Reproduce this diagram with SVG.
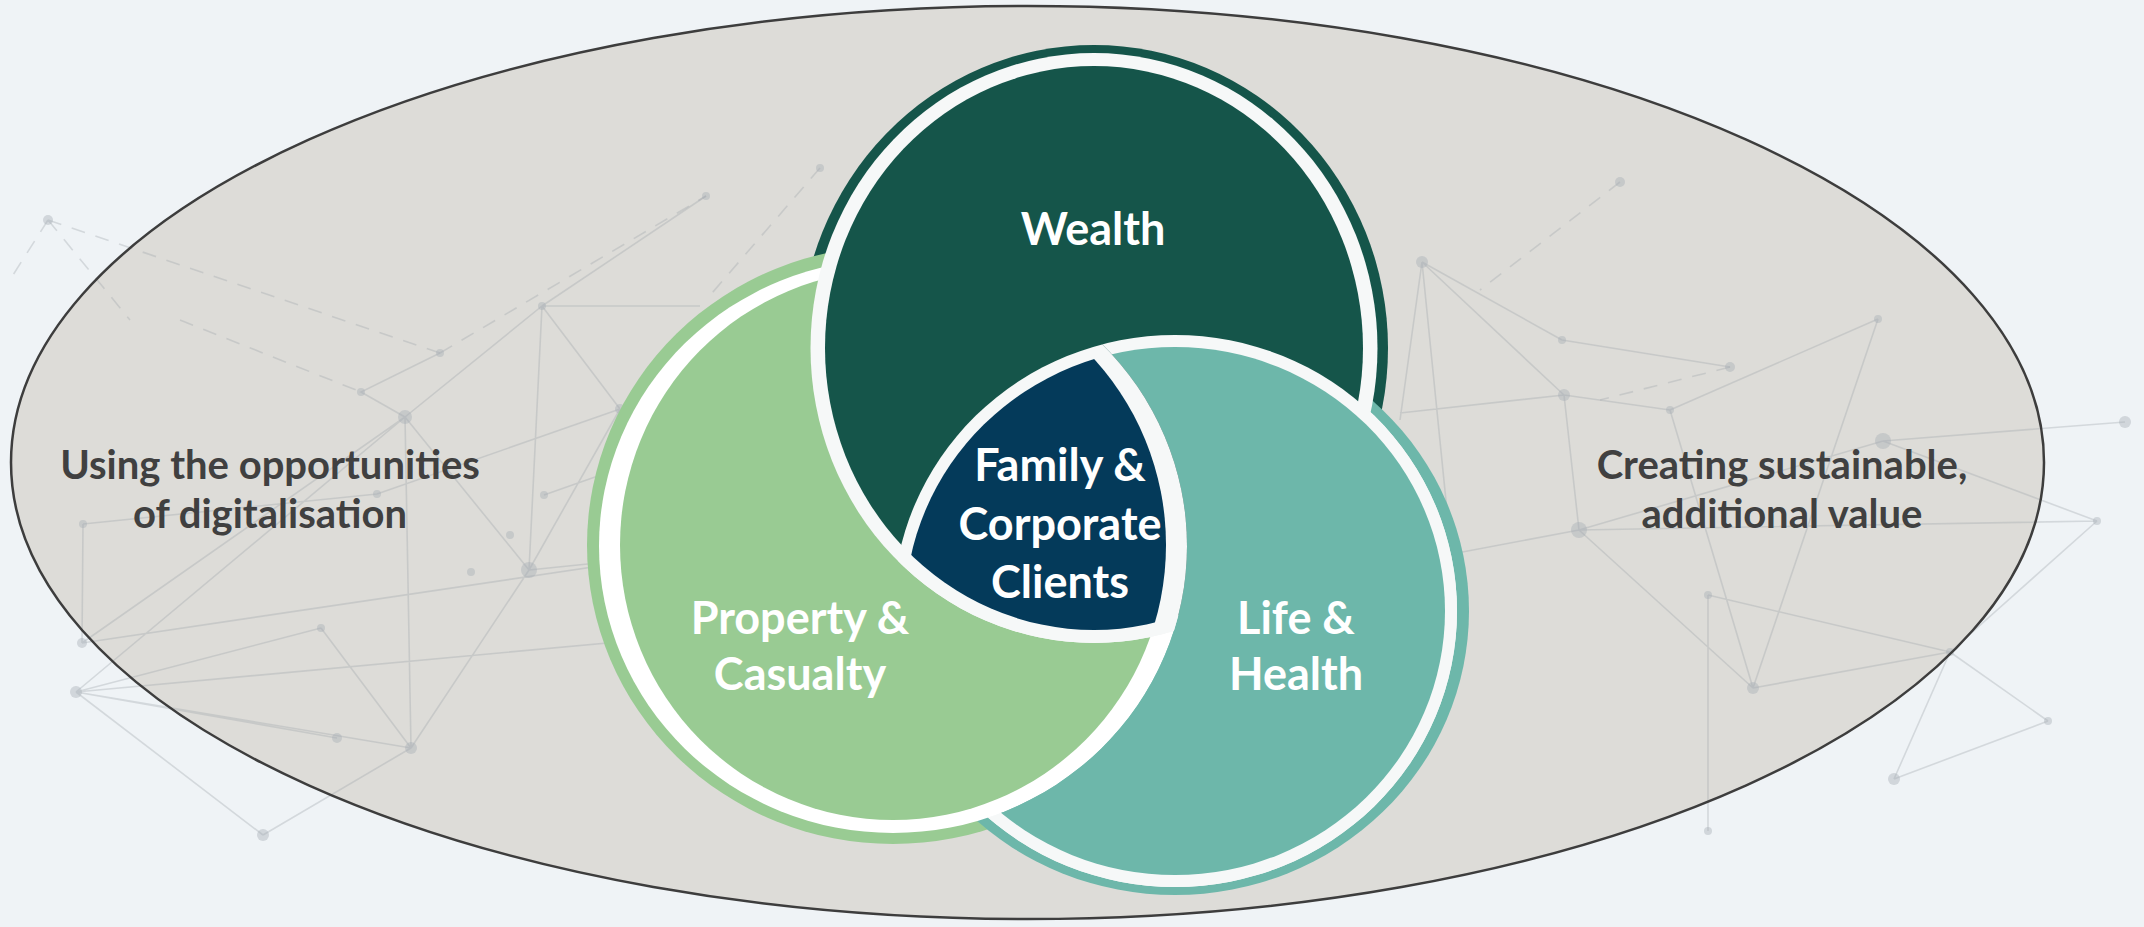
<svg xmlns="http://www.w3.org/2000/svg" width="2144" height="927" viewBox="0 0 2144 927">
<style>
  .net{fill:none;stroke:#9ea3aa;stroke-opacity:.34;stroke-width:1.6}
  .dash{stroke-dasharray:14 11}
  .dot{fill:#a8adb4;fill-opacity:.42}
  .lbl{font-family:Lato,"Open Sans","Liberation Sans",sans-serif;font-weight:700;text-anchor:middle}
  .in{fill:#ffffff;font-size:45px}
  .side{fill:#404040;font-size:40px}
  .ring{fill:#f6f8f8}
</style>
<defs>
  <ellipse id="wB" cx="1094" cy="348" rx="294" ry="303"/>
  <ellipse id="wW" cx="1094" cy="348" rx="283.5" ry="295"/>
  <ellipse id="wF" cx="1094" cy="348" rx="269" ry="282"/>
  <ellipse id="pB" cx="893" cy="545" rx="306" ry="299"/>
  <ellipse id="pW" cx="893" cy="546" rx="294" ry="287"/>
  <ellipse id="pF" cx="893" cy="545" rx="273" ry="275"/>
  <ellipse id="lB" cx="1175" cy="611" rx="294" ry="284"/>
  <ellipse id="lW" cx="1175" cy="611" rx="282" ry="276"/>
  <ellipse id="lF" cx="1175" cy="611" rx="270" ry="264"/>
  <mask id="outsideP" maskUnits="userSpaceOnUse" x="0" y="0" width="2144" height="927">
    <rect width="2144" height="927" fill="#fff"/>
    <use href="#pW" fill="#000"/>
  </mask>
  <clipPath id="cLW"><use href="#lW"/></clipPath>
  <clipPath id="cWW"><use href="#wW"/></clipPath>
  <clipPath id="cLF"><use href="#lF"/></clipPath>
  <clipPath id="cWF"><use href="#wF"/></clipPath>
</defs>

<rect width="2144" height="927" fill="#eff3f6"/>
<ellipse id="frame-fill" cx="1027.5" cy="462.5" rx="1016.5" ry="456.5" fill="#dddcd8"/>

<g id="network">
  <path class="net" d="M405 417 L542 306 M405 417 L411 748 M405 417 L76 692 M405 417 L529 570 M405 417 L361 392 L440 353 M529 570 L705 552 M529 570 L411 748 M529 570 L542 306 M76 692 L411 748 M76 692 L263 835 M263 835 L411 748 M76 692 L640 640 M82 643 L640 560 M76 692 L321 628 M83 524 L82 643 M83 524 L377 494 M542 306 L700 306 M542 306 L620 409 M620 409 L529 570 M337 738 L76 692 M706 196 L542 306 M321 628 L411 748 M544 495 L700 440 M377 494 L620 409 M82 643 L405 417"/>
  <path class="net dash" d="M48 220 L440 353 M48 220 L13 275 M48 220 L130 320 M180 320 L361 392 M440 353 L706 196 M820 168 L706 300"/>
  <path class="net" d="M1422 262 L1564 395 M1422 262 L1562 340 M1422 262 L1400 420 M1564 395 L1670 410 M1564 395 L1579 530 M1564 395 L1400 413 M1670 410 L1753 688 M1579 530 L1753 688 M1753 688 L1950 652 M1753 688 L1878 319 M1950 652 L2097 521 M1950 652 L1894 779 M1894 779 L2048 721 M1950 652 L2048 721 M1883 441 L2125 422 M1883 441 L2097 521 M1579 530 L1883 441 M1670 410 L1878 319 M1708 595 L1708 831 M1579 530 L1420 560 M1562 340 L1730 367 M1579 530 L2097 521 M1708 595 L1950 652 M1422 262 L1460 640"/>
  <path class="net dash" d="M1620 182 L1480 290 M1730 367 L1600 400"/>
  <g class="dot">
    <circle cx="48" cy="220" r="5"/><circle cx="440" cy="353" r="4"/><circle cx="361" cy="392" r="4"/>
    <circle cx="405" cy="417" r="7"/><circle cx="542" cy="306" r="4"/><circle cx="544" cy="495" r="4"/>
    <circle cx="510" cy="535" r="4"/><circle cx="529" cy="570" r="8"/><circle cx="471" cy="572" r="4"/>
    <circle cx="83" cy="524" r="4"/><circle cx="321" cy="628" r="4"/><circle cx="82" cy="643" r="5"/>
    <circle cx="76" cy="692" r="6"/><circle cx="337" cy="738" r="5"/><circle cx="411" cy="748" r="6"/>
    <circle cx="263" cy="835" r="6"/><circle cx="377" cy="494" r="4"/><circle cx="620" cy="409" r="5"/>
    <circle cx="706" cy="196" r="4"/><circle cx="820" cy="168" r="4"/>
    <circle cx="1620" cy="182" r="5"/><circle cx="1422" cy="262" r="6"/><circle cx="1562" cy="340" r="4"/>
    <circle cx="1564" cy="395" r="6"/><circle cx="1670" cy="410" r="4"/><circle cx="1730" cy="367" r="5"/>
    <circle cx="1878" cy="319" r="4"/><circle cx="1883" cy="441" r="8"/><circle cx="2125" cy="422" r="6"/>
    <circle cx="2097" cy="521" r="4"/><circle cx="1579" cy="530" r="8"/><circle cx="1708" cy="595" r="4"/>
    <circle cx="1753" cy="688" r="6"/><circle cx="1950" cy="652" r="4"/><circle cx="1894" cy="779" r="6"/>
    <circle cx="2048" cy="721" r="4"/><circle cx="1708" cy="831" r="4"/>
  </g>
</g>
<ellipse id="frame-outline" cx="1027.5" cy="462.5" rx="1016.5" ry="456.5" fill="none" stroke="#3d3d3d" stroke-width="2.5"/>

<g id="outer-bands">
  <use href="#wB" fill="#15554a"/>
  <use href="#pB" fill="#99cb93"/>
  <use href="#lB" fill="#6db7aa"/>
</g>

<g id="node-life">
  <use href="#lW" class="ring"/>
  <use href="#lF" fill="#6db7aa"/>
</g>
<g id="node-property">
  <use href="#pW" fill="#ffffff"/>
  <use href="#pF" fill="#99cb93"/>
</g>
<g id="node-wealth">
  <use href="#wW" class="ring"/>
  <use href="#wF" fill="#15554a"/>
</g>
<g id="node-life-over-wealth" mask="url(#outsideP)">
  <use href="#lW" class="ring"/>
  <use href="#lF" fill="#6db7aa"/>
</g>
<g id="node-family">
  <g clip-path="url(#cLW)"><g clip-path="url(#cWW)"><use href="#pW" class="ring"/></g></g>
  <g clip-path="url(#cLF)"><g clip-path="url(#cWF)"><use href="#pF" fill="#043a5a"/></g></g>
</g>

<g id="label-wealth"><text class="lbl in" x="1093" y="245">Wealth</text></g>
<g id="label-family">
  <text class="lbl in" x="1060" y="481">Family &amp;</text>
  <text class="lbl in" x="1060" y="540">Corporate</text>
  <text class="lbl in" x="1060" y="598">Clients</text>
</g>
<g id="label-property">
  <text class="lbl in" x="800" y="634">Property &amp;</text>
  <text class="lbl in" x="800" y="690">Casualty</text>
</g>
<g id="label-life">
  <text class="lbl in" x="1296" y="634">Life &amp;</text>
  <text class="lbl in" x="1296" y="690">Health</text>
</g>
<g id="label-left">
  <text class="lbl side" x="270" y="479">Using the opportunities</text>
  <text class="lbl side" x="270" y="528">of digitalisation</text>
</g>
<g id="label-right">
  <text class="lbl side" x="1782" y="479">Creating sustainable,</text>
  <text class="lbl side" x="1782" y="528">additional value</text>
</g>
</svg>
